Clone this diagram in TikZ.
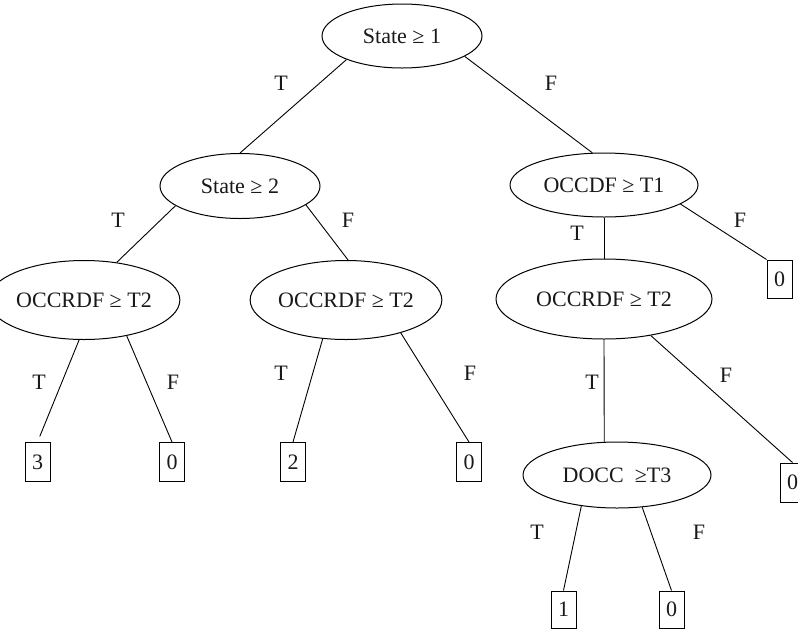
\documentclass[tikz,border=0pt]{standalone}
\usepackage{fontspec}
\setmainfont{Liberation Serif}
\usetikzlibrary{shapes.geometric}
\begin{document}
\begin{tikzpicture}[x=1pt,y=-1pt,
  every node/.style={font=\fontsize{22}{26}\selectfont, text=black!90},
  test/.style={draw, ellipse, line width=1pt, inner sep=0pt},
  leaf/.style={draw, rectangle, line width=1pt, inner sep=0pt, minimum width=25pt, minimum height=39pt},
  edge/.style={draw, line width=0.9pt},
  lbl/.style={inner sep=0pt}]
\useasboundingbox (0,0) rectangle (798,633);
\clip (0,0) rectangle (798,633);
\fill[white] (0,0) rectangle (798,633);
% decision nodes
\node[test, minimum width=160pt, minimum height=64pt] (n1) at (402,36) {State ≥ 1};
\node[test, minimum width=160pt, minimum height=65pt] (n2) at (240,186) {State ≥ 2};
\node[test, minimum width=188pt, minimum height=64pt] (n3) at (604,185) {OCCDF ≥ T1};
\node[test, minimum width=158pt, minimum height=79pt] (n4) at (84,300) {OCCRDF ≥ T2};
\node[test, minimum width=158pt, minimum height=79pt] (n5) at (346,300) {OCCRDF ≥ T2};
\node[test, minimum width=216pt, minimum height=80pt] (n6) at (604,299) {OCCRDF ≥ T2};
\node[test, minimum width=188pt, minimum height=66pt] (n7) at (617,475) {DOCC~ ≥T3};
% leaves
\node[leaf, minimum height=38pt] (b1) at (779.5,279) {0};
\node[leaf] (b2) at (37.5,462) {3};
\node[leaf] (b3) at (172,462) {0};
\node[leaf] (b4) at (293,462) {2};
\node[leaf] (b5) at (469,462) {0};
\node[leaf] (b6) at (792.5,482.5) {0};
\node[leaf, minimum height=37pt] (b7) at (563.5,609.5) {1};
\node[leaf, minimum height=37pt] (b8) at (671.5,609.5) {0};
% edges
\draw[edge] (n1.203.8) -- (n2.north);
\draw[edge] (n1.342.8) -- (n3.110);
\draw[edge] (n2.197.4) -- (n4.49.5);
\draw[edge] (n2.344.2) -- (n5.87);
\draw[edge] (n3.south) -- (n6.north);
\draw[edge] (n3.346.1) -- (b1.north west);
\draw[edge, shorten >=6pt] (n4.263) -- (b2.north);
\draw[edge] (n4.320.1) -- (b3.north);
\draw[edge] (n5.239.7) -- (b4.north);
\draw[edge] (n5.329.3) -- (b5.north);
\draw[edge] (n6.south) -- (n7.111.5);
\draw[edge] (n6.322.1) -- (b6.north);
\draw[edge] (n7.221.1) -- (b7.north);
\draw[edge] (n7.308.5) -- (b8.north);
% labels
\node[lbl] (l1) at (281,83) {T};
\node[lbl] (l2) at (551,83) {F};
\node[lbl] (l3) at (118,220) {T};
\node[lbl] (l4) at (348,220) {F};
\node[lbl] (l5) at (577,233) {T};
\node[lbl] (l6) at (740,220) {F};
\node[lbl] (l7) at (39,382) {T};
\node[lbl] (l8) at (173,382) {F};
\node[lbl] (l9) at (281,373) {T};
\node[lbl] (l10) at (470,373) {F};
\node[lbl] (l11) at (592,382) {T};
\node[lbl] (l12) at (726,375) {F};
\node[lbl] (l13) at (537,532) {T};
\node[lbl] (l14) at (699,532) {F};
\end{tikzpicture}
\end{document}
